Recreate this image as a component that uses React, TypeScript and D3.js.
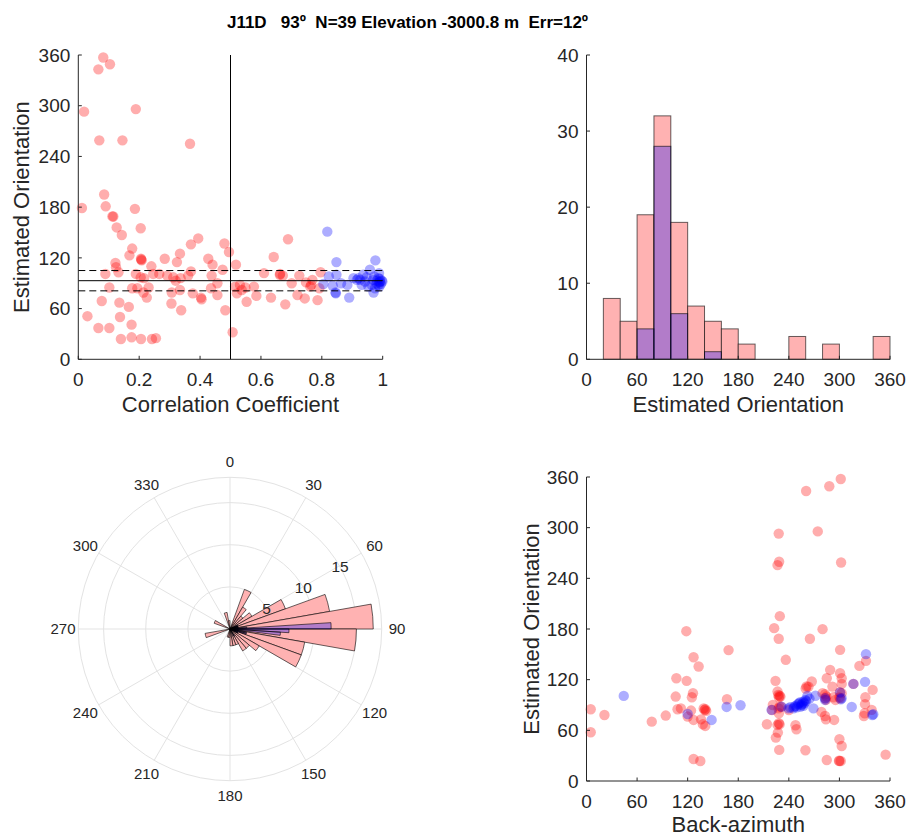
import React from "react";
import * as d3 from "d3";

const TITLE = "J11D   93º  N=39 Elevation -3000.8 m  Err=12º";

// Top-left: [correlation coefficient, estimated orientation]
const ccRed: [number, number][] = [
  [0.082, 357], [0.066, 343], [0.104, 349], [0.019, 293], [0.189, 296], [0.069, 259], [0.145, 259], [0.367, 255],
  [0.085, 195], [0.090, 181], [0.012, 179], [0.112, 169], [0.115, 169], [0.186, 178], [0.126, 156], [0.205, 155],
  [0.143, 147], [0.394, 143], [0.370, 136], [0.480, 137], [0.495, 127], [0.689, 142], [0.177, 131], [0.168, 123],
  [0.334, 125], [0.284, 119], [0.206, 119], [0.208, 117], [0.324, 115], [0.427, 119], [0.441, 112], [0.518, 112],
  [0.642, 121], [0.122, 114], [0.124, 109], [0.132, 103], [0.089, 101], [0.240, 110], [0.189, 101], [0.205, 97],
  [0.216, 96], [0.246, 101], [0.266, 101], [0.292, 99], [0.312, 97], [0.320, 93], [0.361, 99], [0.370, 104],
  [0.474, 106], [0.438, 99], [0.457, 90], [0.610, 102], [0.663, 101], [0.672, 99], [0.726, 99], [0.748, 91],
  [0.769, 94], [0.796, 103], [0.701, 90], [0.515, 86], [0.531, 88], [0.549, 85], [0.577, 86], [0.521, 78],
  [0.537, 82], [0.585, 75], [0.553, 68], [0.633, 73], [0.680, 65], [0.720, 76], [0.744, 72], [0.762, 86],
  [0.786, 70], [0.792, 84], [0.102, 85], [0.177, 84], [0.194, 84], [0.214, 79], [0.231, 85], [0.225, 73],
  [0.307, 79], [0.334, 82], [0.376, 78], [0.403, 73], [0.405, 71], [0.436, 84], [0.457, 76], [0.077, 69],
  [0.135, 67], [0.166, 62], [0.306, 66], [0.338, 58], [0.483, 58], [0.030, 51], [0.137, 50], [0.175, 41],
  [0.066, 37], [0.102, 37], [0.140, 24], [0.175, 26], [0.206, 24], [0.242, 24], [0.255, 25], [0.507, 32],
  [0.207, 118], [0.765, 88], [0.662, 100], [0.336, 96],
];
const ccBlue: [number, number][] = [
  [0.818, 151], [0.848, 115], [0.848, 100], [0.823, 98], [0.805, 89], [0.836, 87], [0.845, 79], [0.846, 78],
  [0.863, 90], [0.884, 88], [0.890, 73], [0.976, 117], [0.958, 106], [0.988, 102], [0.936, 100], [0.920, 96],
  [0.947, 97], [0.969, 94], [0.986, 96], [0.991, 92], [0.980, 90], [0.964, 88], [0.989, 86], [0.970, 79],
  [0.931, 88], [0.915, 94], [0.926, 94], [0.991, 95], [0.997, 93], [0.975, 84], [0.953, 86], [0.986, 88],
  [0.994, 89], [0.942, 92], [0.980, 93], [0.904, 96], [0.989, 91], [0.999, 92], [0.972, 98],
];
const MEAN_ORIENT = 93;
const ERR = 12;
const CC_CUT = 0.5;

// Top-right histogram (20° bins)
const histEdges = [0, 20, 40, 60, 80, 100, 120, 140, 160, 180, 200, 220, 240, 260, 280, 300, 320, 340, 360];
const histAll = [0, 8, 5, 19, 32, 18, 7, 5, 4, 2, 0, 0, 3, 0, 2, 0, 0, 3];
const histSel = [0, 0, 0, 4, 28, 6, 0, 1, 0, 0, 0, 0, 0, 0, 0, 0, 0, 0];

// Rose (polar histogram)
const roseWidth = 10;
const roseAll = [0, 0, 5, 3, 2, 3, 7, 12, 17, 15, 9, 9, 4, 3, 3, 2, 2, 2, 1, 1, 0, 0, 0, 0, 0, 3, 0, 0, 0, 2, 0, 0, 0, 0, 2, 1];
const roseSelWidth = 3.6;
const roseSelStart = [61.2, 68.4, 72, 75.6, 82.8, 86.4, 90, 93.6, 97.2, 100.8, 104.4, 111.6, 115.2, 147.6];
const roseSelCount = [1, 1, 1, 1, 2, 12, 7, 6, 1, 2, 2, 1, 1, 1];
const thetaTicks = [0, 30, 60, 90, 120, 150, 180, 210, 240, 270, 300, 330];
const rTicks = [5, 10, 15];
const R_MAX = 18;

// Bottom-right: [back-azimuth, estimated orientation]
const bazRed: [number, number][] = [
  [301.6, 357.6], [288, 349], [260.5, 343.4], [274.3, 295.6], [228, 293], [228.5, 259.6], [226.6, 255.7], [302, 258.8],
  [229.3, 195.2], [222.6, 181], [228, 168.4], [280, 179.8], [265, 168.4], [118.4, 177.4], [168.5, 155], [300.8, 155.3],
  [127, 146.6], [133, 135.6], [236.4, 143.5], [289, 131.6], [323.7, 136.3], [331.5, 142.3], [106.6, 121.7], [118.8, 118.6],
  [224.2, 118.6], [300.8, 127.6], [302.7, 121.7], [285, 121.7], [267.2, 117.8], [263.3, 111.8], [260, 109.5], [291.7, 111.8],
  [302.7, 115], [339.4, 107.9], [126.3, 104], [125, 99.2], [226.6, 105.9], [227.4, 102], [228.2, 99.2], [105.8, 100],
  [166.6, 96.8], [283, 102.7], [292.9, 99.2], [295.3, 96], [284, 96], [330.8, 99.2], [302.7, 104], [330.4, 91],
  [221, 90], [230.9, 88], [240, 84], [108, 85], [112, 86], [139, 86], [140, 84], [124, 83.4],
  [5, 85], [21.3, 78.2], [94, 77.5], [77.4, 70.3], [120, 76.3], [127, 72.3], [135.8, 73], [138, 67.2],
  [140.9, 65.2], [227.8, 86], [228.2, 80.2], [228.2, 68.4], [226.6, 66.4], [227, 57.3], [224.6, 51.4], [228.6, 36.8],
  [214, 67.2], [247.9, 66], [249, 61.3], [259.7, 36.4], [278.7, 81.8], [283, 77], [284, 73], [293.7, 72.3],
  [300, 49.4], [302.7, 41.5], [300, 23.7], [301.6, 23.7], [285, 24.9], [329, 77], [330, 80.2], [338.3, 84.2],
  [354.8, 31.2], [5, 57.7], [127, 26], [135, 23.7], [316.6, 115], [280, 104], [220, 84], [229, 101],
  [230, 100], [284.5, 100], [300, 99], [301, 98], [229, 67], [141, 85], [142, 83], [299.5, 24],
  [229, 88], [283.5, 98], [300.5, 105], [261, 112],
];
const bazBlue: [number, number][] = [
  [44.2, 100.8], [120, 79.4], [148.4, 72.3], [166.2, 87.7], [182.7, 89.7], [219.5, 84.2], [231.3, 88], [245.5, 86],
  [247.9, 89], [250.6, 91], [253.4, 93.3], [257.3, 94], [259.7, 96], [262, 100.8], [257.3, 89], [254.8, 90],
  [249.4, 87.3], [269.2, 86], [271.6, 101], [283, 98], [283, 96], [301.6, 96.8], [302.7, 98], [300.8, 105],
  [314.6, 87.7], [316.6, 115], [330.4, 117.4], [331.5, 150.2], [340.2, 79], [339, 78.2], [241.6, 87.3], [252, 92],
  [255.8, 91.5], [258.5, 92], [260.5, 94.5], [264.5, 97.6], [246.4, 88], [254, 88], [239.6, 86],
];

const orientTicks = [0, 60, 120, 180, 240, 300, 360];
const ccTicks = [0, 0.2, 0.4, 0.6, 0.8, 1];
const countTicks = [0, 10, 20, 30, 40];

const FONT = "'Liberation Sans', Arial, Helvetica, sans-serif";
const AX = "#262626";
const TICK_FS = 19;
const LABEL_FS = 22;
const RED = "rgb(255,0,0)";
const BLUE = "rgb(0,0,255)";
const DOT_R = 5.2;
const DOT_A = 0.32;

type Scale = d3.ScaleLinear<number, number>;

function Axes(props: {
  x: Scale; y: Scale; xTicks: number[]; yTicks: number[];
  xFmt?: (v: number) => string; yFmt?: (v: number) => string;
  xLabel?: string; yLabel?: string; yLabelX?: number; xLabelDy?: number;
}) {
  const { x, y, xTicks, yTicks, xLabel, yLabel, yLabelX } = props;
  const xLabelDy = props.xLabelDy ?? 53;
  const xFmt = props.xFmt || ((v: number) => String(v));
  const yFmt = props.yFmt || ((v: number) => String(v));
  const [x0, x1] = x.range();
  const [y0, y1] = y.range();
  const tl = 3.5;
  return (
    <g fontFamily={FONT} fill={AX}>
      <line x1={x0} x2={x1} y1={y0} y2={y0} stroke={AX} strokeWidth={1} />
      <line x1={x0} x2={x0} y1={y0} y2={y1} stroke={AX} strokeWidth={1} />
      {xTicks.map((t) => (
        <g key={"x" + t}>
          <line x1={x(t)} x2={x(t)} y1={y0} y2={y0 - tl} stroke={AX} strokeWidth={1} />
          <text x={x(t)} y={y0 + 27} textAnchor="middle" fontSize={TICK_FS}>{xFmt(t)}</text>
        </g>
      ))}
      {yTicks.map((t) => (
        <g key={"y" + t}>
          <line x1={x0} x2={x0 + tl} y1={y(t)} y2={y(t)} stroke={AX} strokeWidth={1} />
          <text x={x0 - 8} y={y(t)} dy="0.35em" textAnchor="end" fontSize={TICK_FS}>{yFmt(t)}</text>
        </g>
      ))}
      {xLabel && (
        <text x={(x0 + x1) / 2} y={y0 + xLabelDy} textAnchor="middle" fontSize={LABEL_FS}>{xLabel}</text>
      )}
      {yLabel && (
        <text transform={`translate(${yLabelX},${(y0 + y1) / 2}) rotate(-90)`} textAnchor="middle" fontSize={LABEL_FS}>{yLabel}</text>
      )}
    </g>
  );
}

export default function App() {
  // Top-left scatter
  const xCC = d3.scaleLinear().domain([0, 1]).range([78.3, 382.7]);
  const yTL = d3.scaleLinear().domain([0, 360]).range([359.3, 55]);
  // Top-right histogram
  const xH = d3.scaleLinear().domain([0, 360]).range([586.5, 890]);
  const yH = d3.scaleLinear().domain([0, 40]).range([359.3, 55]);
  // Bottom-right scatter
  const xBR = d3.scaleLinear().domain([0, 360]).range([586.5, 890]);
  const yBR = d3.scaleLinear().domain([0, 360]).range([781, 477]);
  // Polar
  const cx = 230, cy = 629;
  const rS = d3.scaleLinear().domain([0, R_MAX]).range([0, 151.7]);
  const rad = (d: number) => (d * Math.PI) / 180;
  const arc = d3.arc<any>();

  return (
    <svg width={910} height={837} style={{ position: "absolute", left: 0, top: 0, background: "#fff" }}>
      <rect x={0} y={0} width={910} height={837} fill="#fff" />
      <text x={407.5} y={27.5} textAnchor="middle" fontFamily={FONT} fontWeight="bold" fontSize={17} fill="#000" style={{ whiteSpace: "pre" }} xmlSpace="preserve">{TITLE}</text>

      {/* Top-left */}
      <g>
        {ccRed.map(([c, o], i) => (
          <circle key={"r" + i} cx={xCC(c)} cy={yTL(o)} r={DOT_R} fill={RED} fillOpacity={DOT_A} />
        ))}
        {ccBlue.map(([c, o], i) => (
          <circle key={"b" + i} cx={xCC(c)} cy={yTL(o)} r={DOT_R} fill={BLUE} fillOpacity={DOT_A} />
        ))}
        <line x1={xCC(0)} x2={xCC(1)} y1={yTL(MEAN_ORIENT)} y2={yTL(MEAN_ORIENT)} stroke="#000" strokeWidth={1} />
        <line x1={xCC(0)} x2={xCC(1)} y1={yTL(MEAN_ORIENT + ERR)} y2={yTL(MEAN_ORIENT + ERR)} stroke="#000" strokeWidth={1} strokeDasharray="7,4" />
        <line x1={xCC(0)} x2={xCC(1)} y1={yTL(MEAN_ORIENT - ERR)} y2={yTL(MEAN_ORIENT - ERR)} stroke="#000" strokeWidth={1} strokeDasharray="7,4" />
        <line x1={xCC(CC_CUT)} x2={xCC(CC_CUT)} y1={yTL(0)} y2={yTL(360)} stroke="#000" strokeWidth={1} />
        <Axes x={xCC} y={yTL} xTicks={ccTicks} yTicks={orientTicks} xLabel="Correlation Coefficient" yLabel="Estimated Orientation" yLabelX={28.5} />
      </g>

      {/* Top-right histogram */}
      <g>
        {histAll.map((v, i) =>
          v > 0 ? (
            <rect key={"ha" + i} x={xH(histEdges[i])} y={yH(v)} width={xH(histEdges[i + 1]) - xH(histEdges[i])} height={yH(0) - yH(v)}
              fill="rgb(255,178,178)" stroke="#000" strokeOpacity={0.6} strokeWidth={1} />
          ) : null
        )}
        {histSel.map((v, i) =>
          v > 0 ? (
            <rect key={"hs" + i} x={xH(histEdges[i])} y={yH(v)} width={xH(histEdges[i + 1]) - xH(histEdges[i])} height={yH(0) - yH(v)}
              fill={BLUE} fillOpacity={0.3} stroke="#000" strokeOpacity={0.6} strokeWidth={1} />
          ) : null
        )}
        <Axes x={xH} y={yH} xTicks={orientTicks} yTicks={countTicks} xLabel="Estimated Orientation" />
      </g>

      {/* Polar rose */}
      <g transform={`translate(${cx},${cy})`} fontFamily={FONT}>
        {rTicks.map((r) => (
          <circle key={"rc" + r} r={rS(r)} fill="none" stroke="#e3e3e3" strokeWidth={1} />
        ))}
        <circle r={rS(R_MAX)} fill="none" stroke="#e3e3e3" strokeWidth={1} />
        {thetaTicks.map((t) => (
          <line key={"sp" + t} x1={0} y1={0} x2={rS(R_MAX) * Math.sin(rad(t))} y2={-rS(R_MAX) * Math.cos(rad(t))} stroke="#e3e3e3" strokeWidth={1} />
        ))}
        {thetaTicks.map((t) => (
          <text key={"tl" + t} x={167 * Math.sin(rad(t))} y={-167 * Math.cos(rad(t))} dy="0.35em" textAnchor="middle" fontSize={15} fill={AX}>{t}</text>
        ))}
        {roseAll.map((v, i) =>
          v > 0 ? (
            <path key={"ra" + i}
              d={arc({ innerRadius: 0, outerRadius: rS(v), startAngle: rad(i * roseWidth), endAngle: rad((i + 1) * roseWidth) }) as string}
              fill="rgb(255,178,178)" stroke="#000" strokeOpacity={0.75} strokeWidth={0.8} />
          ) : null
        )}
        {roseSelCount.map((v, i) => (
          <path key={"rs" + i}
            d={arc({ innerRadius: 0, outerRadius: rS(v), startAngle: rad(roseSelStart[i]), endAngle: rad(roseSelStart[i] + roseSelWidth) }) as string}
            fill={BLUE} fillOpacity={0.3} stroke="#000" strokeOpacity={0.75} strokeWidth={0.8} />
        ))}
        {rTicks.map((r) => (
          <text key={"rl" + r} x={rS(r) * Math.sin(rad(60.5))} y={-rS(r) * Math.cos(rad(60.5))} dy="0.35em" textAnchor="middle" fontSize={15.5} fill={AX}>{r}</text>
        ))}
      </g>

      {/* Bottom-right scatter */}
      <g>
        {bazRed.map(([b, o], i) => (
          <circle key={"br" + i} cx={xBR(b)} cy={yBR(o)} r={DOT_R} fill={RED} fillOpacity={DOT_A} />
        ))}
        {bazBlue.map(([b, o], i) => (
          <circle key={"bb" + i} cx={xBR(b)} cy={yBR(o)} r={DOT_R} fill={BLUE} fillOpacity={DOT_A} />
        ))}
        <Axes x={xBR} y={yBR} xTicks={orientTicks} yTicks={orientTicks} xLabel="Back-azimuth" yLabel="Estimated Orientation" yLabelX={538.5} xLabelDy={51} />
      </g>
    </svg>
  );
}
